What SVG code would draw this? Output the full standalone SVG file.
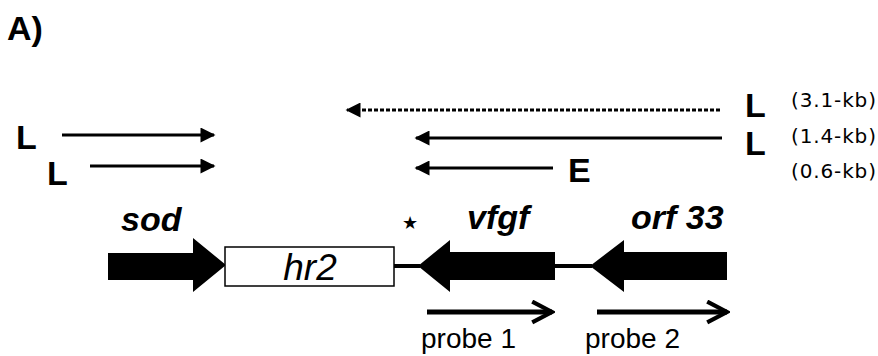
<svg xmlns="http://www.w3.org/2000/svg" width="878" height="356" viewBox="0 0 878 356">
<defs>
<style>
.b{font-family:"Liberation Sans",Arial,sans-serif;font-weight:bold;font-size:34px;fill:#000}
.kb{font-family:"DejaVu Sans",sans-serif;font-size:20px;fill:#000}
.gn{font-family:"Liberation Sans",Arial,sans-serif;font-size:34px;font-style:italic;font-weight:bold;fill:#000}
.hr{font-family:"Liberation Sans",Arial,sans-serif;font-size:37px;font-style:italic;fill:#000}
.pr{font-family:"Liberation Sans",Arial,sans-serif;font-size:28px;fill:#000}
.ln{stroke:#000;stroke-width:3;fill:none}
.pl{stroke:#000;stroke-width:5;fill:none}
</style>
<marker id="ah" viewBox="0 0 10 10" refX="9" refY="5" markerWidth="6" markerHeight="5" markerUnits="strokeWidth" orient="auto">
<path d="M0,0 L10,5 L0,10 Z" fill="#000"/>
</marker>
<marker id="oh" viewBox="0 0 12 12" refX="10.5" refY="6" markerWidth="5" markerHeight="5" markerUnits="strokeWidth" orient="auto">
<path d="M1,1 L10.5,6 L1,11" fill="none" stroke="#000" stroke-width="2"/>
</marker>
</defs>
<rect width="878" height="356" fill="#fff"/>
<text x="7" y="40" class="b">A)</text>
<g id="connectors">
<line class="ln" x1="62" y1="135" x2="214" y2="135" marker-end="url(#ah)"/>
<line class="ln" x1="90" y1="166" x2="214" y2="166" marker-end="url(#ah)"/>
<line class="ln" x1="720" y1="110" x2="347" y2="110" stroke-dasharray="4,2" marker-end="url(#ah)"/>
<line class="ln" x1="722" y1="138" x2="416" y2="138" marker-end="url(#ah)"/>
<line class="ln" x1="553" y1="168" x2="416" y2="168" marker-end="url(#ah)"/>
<line class="pl" x1="427" y1="312" x2="552" y2="312" marker-end="url(#oh)"/>
<line class="pl" x1="597" y1="312" x2="727" y2="312" marker-end="url(#oh)"/>
<line x1="394" y1="266" x2="420" y2="266" stroke="#000" stroke-width="4"/>
<line x1="550" y1="266" x2="592" y2="266" stroke="#000" stroke-width="4"/>
</g>
<g id="labels">
<text x="16" y="149" class="b">L</text>
<text x="47" y="185" class="b">L</text>
<text x="745" y="117" class="b">L</text>
<text x="745" y="155" class="b">L</text>
<text x="568" y="182" class="b">E</text>
<text x="791" y="107" class="kb" textLength="85" lengthAdjust="spacing">(3.1-kb)</text>
<text x="791" y="143" class="kb" textLength="85" lengthAdjust="spacing">(1.4-kb)</text>
<text x="791" y="178" class="kb" textLength="85" lengthAdjust="spacing">(0.6-kb)</text>
<text x="410" y="229" font-family="DejaVu Sans,sans-serif" font-size="18" text-anchor="middle">★</text>
</g>
<g id="sod">
<path d="M108,253 L193,253 L193,238 L226,265 L193,292 L193,280 L108,280 Z" fill="#000"/>
<text x="121" y="231" class="gn">sod</text>
</g>
<g id="hr2">
<rect x="225" y="247" width="169" height="39" fill="#fff" stroke="#000" stroke-width="1.5"/>
<text x="310" y="280" class="hr" text-anchor="middle">hr2</text>
</g>
<g id="vfgf">
<path d="M555,252 L450,252 L450,240 L418,266 L450,292 L450,280 L555,280 Z" fill="#000"/>
<text x="467" y="229" class="gn">vfgf</text>
</g>
<g id="orf33">
<path d="M727,252 L624,252 L624,240 L590,266 L624,292 L624,280 L727,280 Z" fill="#000"/>
<text x="631" y="229" class="gn">orf 33</text>
</g>
<g id="probe1">
<text x="421" y="348" class="pr">probe 1</text>
</g>
<g id="probe2">
<text x="585" y="348" class="pr">probe 2</text>
</g>
</svg>
